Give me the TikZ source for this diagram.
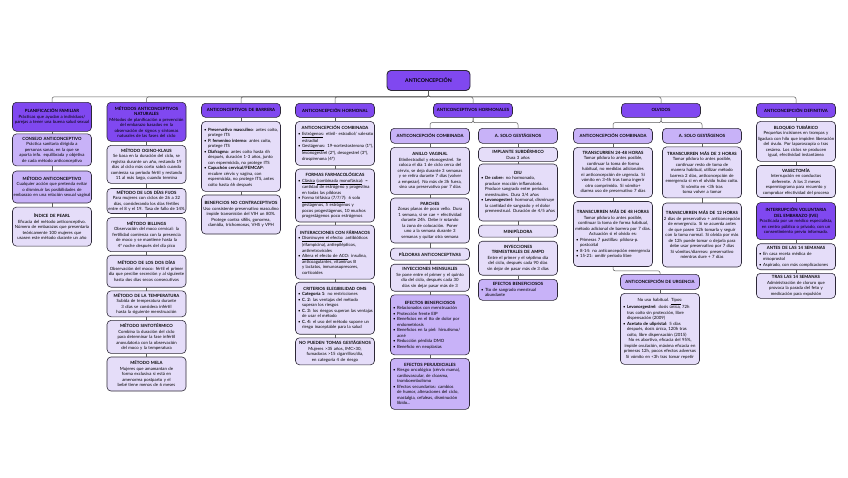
\documentclass[tikz,border=0pt]{standalone}
\usepackage{fontspec}
\setmainfont{Lato}
\usetikzlibrary{positioning}
\definecolor{boxline}{RGB}{45,40,55}
\definecolor{linkgray}{RGB}{90,90,90}
\definecolor{violetmain}{RGB}{128,72,240}
\definecolor{lilac}{RGB}{200,178,248}
\definecolor{lavender}{RGB}{229,221,249}
\hyphenpenalty=10000
\exhyphenpenalty=10000
\newcommand{\bitem}{\par\hangindent=5.5pt\hangafter=1\noindent\hspace*{1.5pt}\makebox[4pt][l]{\textbullet}}
\newcommand{\ctitle}[1]{{\centering\textbf{#1}\par}}
\newcommand{\ul}[1]{\underline{#1}}

\begin{document}
\begin{tikzpicture}[x=1pt,y=-1pt,node distance=3.5pt,
  link/.style={draw=linkgray,line width=0.5pt,rounded corners=2pt},
  card/.style={draw=boxline,line width=0.6pt,rounded corners=4pt,fill=lavender,anchor=north,
    align=center,text width=77pt,inner sep=1pt,font=\fontsize{4.3}{5.5}\selectfont},
  lilaccard/.style={card,fill=lilac},
  violetcard/.style={card,fill=violetmain},
  head/.style={violetcard,minimum height=14pt,font=\fontsize{4.3}{5.5}\selectfont\bfseries},
  subhead/.style={head,fill=lilac},
  listcard/.style={card,align=left}]
  \fill[white] (0,0) rectangle (848,477);
  \useasboundingbox (0,0) rectangle (848,477);

  \node[head,text width=81pt,minimum height=20pt,line width=0.9pt,font=\fontsize{5.2}{6}\selectfont\bfseries] (root) at (428.5,70) {ANTICONCEPCIÓN};

  % top level
  \node[violetcard,minimum height=29pt] (pf) at (52,102) {\textbf{PLANIFICACIÓN FAMILIAR}\\ Prácticas que ayudan a individuos/ parejas a tener una buena salud sexual};
  \node[violetcard,minimum height=39pt] (natur) at (146.5,102) {\textbf{MÉTODOS ANTICONCEPTIVOS NATURALES}\\ Métodos de planificación o prevención del embarazo basados en la observación de signos y síntomas naturales de las fases del ciclo};
  \node[head] (barrera) at (241,103) {ANTICONCEPTIVOS DE BARRERA};
  \node[head] (hormonal) at (335,103) {ANTICONCEPCIÓN HORMONAL};
  \node[head] (hormonales) at (473,103) {ANTICONCEPTIVOS HORMONALES};
  \node[head] (olvidos) at (661,103) {OLVIDOS};
  \node[head] (definitiva) at (796,103) {ANTICONCEPCIÓN DEFINITIVA};

  % planificacion familiar
  \node[lilaccard,minimum height=32pt,below=2pt of pf] (consejo) {\textbf{CONSEJO ANTICONCEPTIVO}\\ Práctica sanitaria dirigida a personas sanas, en la que se aporta info. equilibrada y objetiva de cada método anticonceptivo};
  \node[lilaccard,minimum height=32pt,below=4.5pt of consejo] (metodo) {\textbf{MÉTODO ANTICONCEPTIVO}\\ Cualquier acción que pretenda evitar o disminuir las posibilidades de embarazo en una relación sexual vaginal};
  \node[card,minimum height=39pt,below=of metodo] (pearl) {\textbf{ÍNDICE DE PEARL}\\ Eficacia del método anticonceptivo. Número de embarazos que presentaría teóricamente 100 mujeres que usasen este método durante un año};

  % metodos naturales
  \node[card,minimum height=38pt,below=of natur] (ogino) {\textbf{MÉTODO OGINO-KLAUS}\\ Se basa en la duración del ciclo, se registra durante un año, restando 19 días al ciclo más corto sabrá cuando comienza su periodo fértil y restando 11 al más largo, cuando termina};
  \node[card,minimum height=25pt,below=4.5pt of ogino] (fijos) {\textbf{MÉTODO DE LOS DÍAS FIJOS}\\ Para mujeres con ciclos de 26 a 32 días, considerando los días fértiles entre el 8 y el 19. Tasa de fallo de 14\%};
  \node[card,minimum height=34pt,below=of fijos] (billings) {\textbf{MÉTODO BILLINGS}\\ Observación del moco cervical: la fertilidad comienza con la presencia de moco y se mantiene hasta la 4ª noche después del día pico};
  \node[card,minimum height=32pt,below=3pt of billings] (dosdias) {\textbf{MÉTODO DE LOS DOS DÍAS}\\ Observación del moco: fértil el primer día que percibe secreción y al siguiente hasta dos días secos consecutivos};
  \node[card,minimum height=26pt,below=3pt of dosdias] (temp) {\textbf{MÉTODO DE LA TEMPERATURA}\\ Subida de temperatura durante 3 días se considera infértil hasta la siguiente menstruación};
  \node[card,minimum height=33pt,below=3pt of temp] (sinto) {\textbf{MÉTODO SINTOTÉRMICO}\\ Combina la duración del ciclo para determinar la fase infértil anovulatoria con la observación del moco y la temperatura};
  \node[card,minimum height=34pt,below=3pt of sinto] (mela) {\textbf{MÉTODO MELA}\\ Mujeres que amamantan de forma exclusiva si está en amenorrea postparto y el bebé tiene menos de 6 meses};

  % barrera
  \node[listcard,minimum height=70pt,below=of barrera] (barlist) {%
    \bitem \textbf{Preservativo masculino}: antes coito, protege ITS
    \bitem \textbf{P. femenino interno}: antes coito, protege ITS
    \bitem \textbf{Diafragma}: antes coito hasta 6h después, duración 1-3 años, junto con espermicida, no protege ITS
    \bitem \textbf{Capuchón cervical/FEMCAP}: recubre cérvix y vagina, con espermicida, no protege ITS, antes coito hasta 6h después\par};
  \node[card,minimum height=39pt,below=3pt of barlist] (benef) {\textbf{BENEFICIOS NO CONTRACEPTIVOS}\\ Uso consistente preservativo masculino impide transmisión del VIH un 80\%. Protege contra sífilis, gonorrea, clamidia, trichomonas, VHS y VPH};

  % anticoncepcion hormonal
  \node[listcard,minimum height=44pt,below=of hormonal] (horcomb) {\ctitle{ANTICONCEPCIÓN COMBINADA}
    \bitem \ul{Estrógenos}: etinil- estradiol/ valerato estradiol
    \bitem \ul{Gestágenos}: 19-nortestosterona (1º), levonogestrel (2º), desogestrel (3º), drospirenona (4º)\par};
  \node[listcard,minimum height=53pt,below=3pt of horcomb] (formas) {\ctitle{FORMAS FARMACOLÓGICAS}
    \bitem \ul{Clásica} \ul{(combinada} \ul{monofásica)}: = cantidad de estrógeno y progestina en todas las píldoras
    \bitem \ul{Forma trifásica (7/7/7)}: 6 solo gestágenos, 5 estrógenos y pocos progestágenos, 10 muchos progestágenos poco estrógenos\par};
  \node[listcard,minimum height=54pt,below=2.5pt of formas] (interac) {\ctitle{INTERACCIONES CON FÁRMACOS}
    \bitem \ul{Disminuyen el efecto}: antibióticos (rifampicina), antiepilépticos, antirretrovirales
    \bitem \ul{Altera el efecto de ACO}: insulina, anticoagulantes, vitaminas B y lactatos, inmunosupresores, corticoides\par};
  \node[listcard,minimum height=52pt,below=2.5pt of interac] (criterios) {\ctitle{CRITERIOS ELEGIBILIDAD OMS}
    \bitem \textbf{Categoría 1}: no restricciones
    \bitem \textbf{C. 2}: las ventajas del método superan los riesgos
    \bitem \textbf{C. 3}: los riesgos superan las ventajas de usar el método
    \bitem \textbf{C. 4}: el uso del método supone un riesgo inaceptable para la salud\par};
  \node[card,minimum height=27pt,below=3pt of criterios] (nopueden) {\textbf{NO PUEDEN TOMAS GESTÁGENOS}\\ Mujeres >35 años, IMC>30, fumadoras >15 cigarrillos/día, en categoría 4 de riesgo};

  % anticonceptivos hormonales: combinada
  \node[subhead,minimum height=15pt] (combhead) at (430,128) {ANTICONCEPCIÓN COMBINADA};
  \node[card,minimum height=47pt,below=of combhead] (anillo) {\textbf{ANILLO VAGINAL}\\ Etinilestradiol y etonogestrel. Se coloca el día 1 de ciclo cerca del cérvix, se deja durante 3 semanas y se retira durante 7 días (volver a empezar). No más de 3h fuera, sino uso preservativo por 7 días};
  \node[card,minimum height=45pt,below=3pt of anillo] (parches) {\textbf{PARCHES}\\ Zonas planas de poco vello. Dura 1 semana, si se cae + efectividad durante 24h. Debe ir rotando la zona de colocación. Poner uno a la semana durante 3 semanas y quitar otra semana};
  \node[card,minimum height=12pt,below=4.5pt of parches] (pildoras) {\textbf{PÍLDORAS ANTICONCEPTIVAS}};
  \node[card,minimum height=27pt,below=of pildoras] (inymens) {\textbf{INYECCIONES MENSUALES}\\ Se pone entre el primer y el quinto día del ciclo, después cada 30 días sin dejar pasar más de 3};
  \node[lilaccard,align=left,minimum height=60pt,below=3pt of inymens] (efben) {\ctitle{EFECTOS BENEFICIOSOS}
    \bitem Relacionados con menstruación
    \bitem Protección frente EIP
    \bitem Beneficios en el tto de dolor por endometriosis
    \bitem Beneficios en la piel: hirsutismo/ acné
    \bitem Reducción pérdida DMO
    \bitem Beneficio en neoplasias\par};
  \node[lilaccard,align=left,minimum height=51pt,below=3pt of efben] (efperj) {\ctitle{EFECTOS PERJUDICIALES}
    \bitem Riesgo oncológico (cérvix mama), cardiovascular, de cloasma, tromboembolismo
    \bitem Efectos secundarios: cambios de humor, alteraciones del ciclo, mastalgia, cefaleas, disminución líbido...\par};

  % anticonceptivos hormonales: solo gestagenos
  \node[subhead,minimum height=15pt] (solohead) at (518,128) {A. SOLO GESTÁGENOS};
  \node[card,minimum height=14pt,below=of solohead] (implante) {\textbf{IMPLANTE SUBDÉRMICO}\\ Dura 3 años};
  \node[listcard,minimum height=57pt,below=2pt of implante] (diu) {\ctitle{DIU}
    \bitem \textbf{De cobre}: no hormonado, produce reacción inflamatoria. Produce sangrado entre periodos menstruales. Dura 3/4 años
    \bitem \textbf{Levonogestrel}: hormonal, disminuye la cantidad de sangrado y el dolor premenstrual. Duración de 4/5 años\par};
  \node[card,minimum height=12pt,below=of diu] (minipil) {\textbf{MINIPÍLDORA}};
  \node[card,minimum height=34pt,below=of minipil] (inytrim) {\textbf{INYECCIONES TRIMESTRALES DE AMPD}\\ Entre el primer y el séptimo día del ciclo, después cada 90 días sin dejar de pasar más de 3 días};
  \node[lilaccard,align=left,minimum height=21pt,below=of inytrim] (efben2) {\ctitle{EFECTOS BENEFICIOSOS}
    \bitem Tto de sangrado menstrual abundante\par};

  % olvidos
  \node[subhead,minimum height=15pt] (olvcomb) at (613,128) {ANTICONCEPCIÓN COMBINADA};
  \node[subhead,minimum height=15pt] (olvsolo) at (702,128) {A. SOLO GESTÁGENOS};
  \node[card,minimum height=50pt,below=of olvcomb] (h2448) {\textbf{TRANSCURREN 24-48 HORAS}\\ Tomar píldora lo antes posible, continuar la toma de forma habitual, no medidas adicionales ni anticoncepción de urgencia. Si vómito en 3-4h tras toma ingerir otro comprimido. Si vómito+ diarrea uso de preservativo 7 días};
  \node[listcard,minimum height=65pt,below=of h2448] (h48) {{\centering\textbf{TRANSCURREN MÁS DE 48 HORAS}\\ Tomar píldora lo antes posible, continuar la toma de forma habitual, método adicional de barrera por 7 días.\\ Actuación si el olvido es:\par}
    \bitem Primeras 7 pastillas: píldora-p. postcoital
    \bitem 8-14: no anticoncepción emergencia
    \bitem 15-21: omitir periodo libre\par};
  \node[card,minimum height=51pt,below=3pt of olvsolo] (h3) {\textbf{TRANSCURREN MÁS DE 3 HORAS}\\ Tomar píldora lo antes posible, continuar resto de toma de manera habitual, utilizar método barrera 2 días, anticoncepción de emergencia si en el olvido hubo coito.\\ Si vómito en <3h tras toma volver a tomar};
  \node[card,minimum height=64pt,below=4.5pt of h3] (h12) {\textbf{TRANSCURREN MÁS DE 12 HORAS}\\ 2 días de preservativo + anticoncepción de emergencia. Si se acuerda antes de que pasen 12h tomarla y seguir con la toma normal. Si olvida por más de 12h puede tomar o dejarla para debe usar preservativo por 7 días\\ Si vómitos/diarreas: preservativo mientras dure + 7 días};

  % urgencia
  \node[subhead,minimum height=15pt] (urghead) at (660,274) {ANTICONCEPCIÓN DE URGENCIA};
  \node[listcard,minimum height=71pt,below=of urghead] (urgbox) {{\centering No uso habitual. \ul{Tipos}:\par}
    \bitem \textbf{Levonorgestrel}: dosis única, 72h tras coito sin protección, libre dispensación (2009)
    \bitem \textbf{Acetato de ulipristal}: 5 días después, dosis única, 120h tras coito, libre dispensación (2015)
    \par{\centering No es abortivo, eficacia del 95\%, impide ovulación, máxima eficacia en primeras 12h, pocos efectos adversos\\ Si vómito en <3h tras tomar repetir\par}};

  % definitiva
  \node[card,minimum height=40pt,below=of definitiva] (bloqueo) {\textbf{BLOQUEO TUBÁRICO}\\ Pequeñas incisiones en trompas y ligadura con hilo que impiden liberación del óvulo. Por laparoscopia o tras cesárea. Los ciclos se producen igual, efectividad instantánea};
  \node[card,minimum height=32pt,below=of bloqueo] (vasect) {\textbf{VASECTOMÍA}\\ Interrupción en conductos deferente. A los 3 meses espermiograma para recuento y comprobar efectividad del proceso};
  \node[violetcard,minimum height=37pt,below=4.5pt of vasect] (ive) {\textbf{INTERRUPCIÓN VOLUNTARIA DEL EMBARAZO (IVE)}\\ Practicada por un médico especialista, en centro público o privado, con un consentimiento previo informado.};
  \node[listcard,minimum height=26pt,below=of ive] (antes14) {\ctitle{ANTES DE LAS 14 SEMANAS}
    \bitem En casa receta médica de misoprostol
    \bitem Aspirado, con más complicaciones\par};
  \node[card,minimum height=25pt,below=3pt of antes14] (tras14) {\textbf{TRAS LAS 14 SEMANAS}\\ Administración de cloruro que provoca la parada del feto y medicación para expulsión};

  % connectors
  \foreach \h in {pf,natur,barrera,hormonal,hormonales,olvidos,definitiva}
    \draw[link] (root.south) -- ++(0,6) -| (\h.north);
  \foreach \h in {combhead,solohead}
    \draw[link] (hormonales.south) -- ++(0,5) -| (\h.north);
  \foreach \h in {olvcomb,olvsolo}
    \draw[link] (olvidos.south) -- ++(0,5) -| (\h.north);
  \foreach \a/\b in {pf/consejo,consejo/metodo,metodo/pearl,
      natur/ogino,ogino/fijos,fijos/billings,billings/dosdias,dosdias/temp,temp/sinto,sinto/mela,
      barrera/barlist,barlist/benef,
      hormonal/horcomb,horcomb/formas,formas/interac,interac/criterios,criterios/nopueden,
      combhead/anillo,anillo/parches,parches/pildoras,pildoras/inymens,inymens/efben,efben/efperj,
      solohead/implante,implante/diu,diu/minipil,minipil/inytrim,inytrim/efben2,
      olvcomb/h2448,h2448/h48,olvsolo/h3,h3/h12,urghead/urgbox,
      definitiva/bloqueo,bloqueo/vasect,vasect/ive,ive/antes14,antes14/tras14}
    \draw[link] (\a.south) -- (\b.north);
  \draw[link] (h48.south) -- ++(0,4) -| (urghead.north);
\end{tikzpicture}
\end{document}
